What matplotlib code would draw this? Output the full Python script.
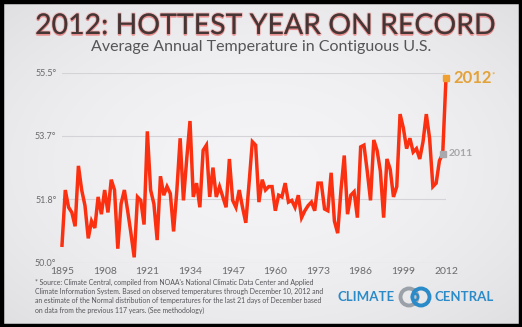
import matplotlib
matplotlib.use('Agg')
import matplotlib.pyplot as plt
import matplotlib.patheffects as pe
from matplotlib.patches import Circle, Rectangle
import numpy as np

plt.rcParams['font.family'] = ['Lato', 'DejaVu Sans']

# annual average temperature, contiguous U.S. (deg F)
years = list(range(1895, 2013))
temps = [
    50.5, 52.1, 51.6, 51.45, 51.05,                                   # 1895-1899
    52.8, 52.1, 51.65, 50.7, 51.2, 51.0, 51.9, 51.4, 52.1, 51.45,       # 1900s
    52.4, 52.1, 50.4, 51.7, 52.1, 51.5, 50.85, 50.15, 51.9, 51.8,       # 1910s
    51.1, 53.8, 52.1, 51.7, 50.65, 52.5, 51.95, 52.2, 52.0, 50.9,       # 1920s
    52.1, 53.6, 51.8, 53.0, 54.1, 51.9, 52.3, 51.6, 53.25, 53.4,        # 1930s
    51.9, 52.75, 51.9, 52.2, 51.9, 51.6, 53.0, 51.8, 51.6, 52.1,        # 1940s
    51.6, 51.15, 52.3, 53.5, 53.4, 51.75, 52.4, 52.1, 52.2, 52.2,       # 1950s
    51.5, 51.95, 51.9, 52.3, 51.75, 51.8, 51.6, 51.95, 51.3, 51.5,      # 1960s
    51.65, 51.75, 51.5, 52.3, 52.3, 51.55, 51.5, 52.6, 51.2, 50.85,     # 1970s
    52.1, 53.1, 51.4, 51.95, 52.05, 51.3, 53.35, 53.4, 52.65, 51.8,     # 1980s
    53.55, 53.25, 52.65, 51.3, 53.0, 52.7, 51.9, 52.2, 54.3, 53.9,      # 1990s
    53.3, 53.6, 53.2, 53.3, 53.0, 53.5, 54.3, 53.6, 52.2, 52.3,         # 2000s
    52.95, 53.15, 55.35,                                              # 2010-2012
]
x_ticks = [1895, 1908, 1921, 1934, 1947, 1960, 1973, 1986, 1999, 2012]
y_ticks = list(np.linspace(50.0, 55.5, 4))

title = '2012: HOTTEST YEAR ON RECORD'
subtitle = 'Average Annual Temperature in Contiguous U.S.'
source = ("* Source: Climate Central, compiled from NOAA's National Climatic Data Center and Applied\n"
          "Climate Information System. Based on observed temperatures through December 10, 2012 and\n"
          "an estimate of the Normal distribution of temperatures for the last 21 days of December based\n"
          "on data from the previous 117 years. (See methodology)")

W, H = 522, 327
fig = plt.figure(figsize=(W / 100, H / 100), dpi=100)

# overlay axes in pixel units: background, border, logo
ov = fig.add_axes([0, 0, 1, 1], zorder=0)
ov.set_xlim(0, W)
ov.set_ylim(H, 0)
ov.axis('off')
gx, gy = np.meshgrid(np.linspace(-1, 1, 200), np.linspace(-1, 1, 120))
bg = 0.955 - 0.04 * (gx ** 2 + gy ** 2)
ov.imshow(np.dstack([bg, bg, bg + 0.008]).clip(0, 1), extent=(0, W, H, 0), aspect='auto', zorder=0)
ov.add_patch(Rectangle((1.5, 1.5), W - 3, H - 3, fill=False, ec='black', lw=3.2, zorder=5))

# logo
ov.text(366, 297, 'CLIMATE', color='#2b8bc9', fontsize=9.5, fontweight='bold', ha='center', va='center')
ov.text(464, 297, 'CENTRAL', color='#2b8bc9', fontsize=9.5, fontweight='bold', ha='center', va='center')
ov.add_patch(Circle((409, 297), 8.5, fill=False, ec='#9aa1a8', lw=2.8, zorder=3))
ov.add_patch(Circle((421, 297), 8.5, fill=False, ec='#2b8bc9', lw=2.8, zorder=4))
ov.add_patch(Circle((415, 297), 3.2, fill=False, ec='#2b8bc9', lw=1.6, zorder=4))

# chart
ax = fig.add_axes([62 / W, 1 - 262.5 / H, (446 - 62) / W, (262.5 - 72.7) / H], zorder=2)
ax.patch.set_alpha(0)
ax.plot(years, temps, color='#fa3010', lw=2.5, solid_joinstyle='miter', clip_on=False, zorder=3)
ax.plot(years[-2], temps[-2], 's', color='#a9a9ad', ms=4, zorder=4, clip_on=False)
ax.plot(years[-1], temps[-1], 's', color='#f0a030', ms=4.5, zorder=4, clip_on=False)
ax.annotate('2012', (years[-1], temps[-1]), xytext=(5, 0), textcoords='offset points',
            color='#e3a23a', fontsize=12, fontweight='bold', va='center', ha='left', annotation_clip=False)
ax.annotate('*', (years[-1], temps[-1]), xytext=(33, 2), textcoords='offset points',
            color='#e3a23a', fontsize=6, va='center', ha='left', annotation_clip=False)
ax.annotate('2011', (years[-2], temps[-2]), xytext=(4, 0), textcoords='offset points',
            color='#a6a6aa', fontsize=7.5, fontweight='bold', va='center', ha='left', annotation_clip=False)

ax.set_xlim(1895, 2012)
ax.set_ylim(50.0, 55.5)
ax.set_xticks(x_ticks)
ax.set_xticklabels([str(t) for t in x_ticks])
ax.set_yticks(y_ticks)
ax.set_yticklabels([f'{t:.1f}\u00b0' for t in y_ticks])
ax.tick_params(axis='both', length=0, colors='#6a6a6e')
ax.tick_params(axis='x', labelsize=7.5, pad=3)
ax.tick_params(axis='y', labelsize=6.5, pad=4)
ax.grid(axis='y', color='#d4d4d8', lw=0.8)
for s in ax.spines.values():
    s.set_visible(False)

# titles
fig.text(0.509, 1 - 26 / H, title, ha='center', va='center', fontsize=20.5, color='#453636',
         path_effects=[pe.withSimplePatchShadow(offset=(0, -1.2), shadow_rgbFace='#e04040', alpha=0.55),
                       pe.Stroke(linewidth=1.6, foreground='#f09090', alpha=0.5), pe.Normal()])
fig.text(0.5, 1 - 47 / H, subtitle, ha='center', va='center', fontsize=11.5, color='#555558')
fig.text(35 / W, 1 - 279 / H, source, ha='left', va='top', fontsize=4.95, color='#55555a', linespacing=1.35)

fig.savefig('out.png', dpi=100)
